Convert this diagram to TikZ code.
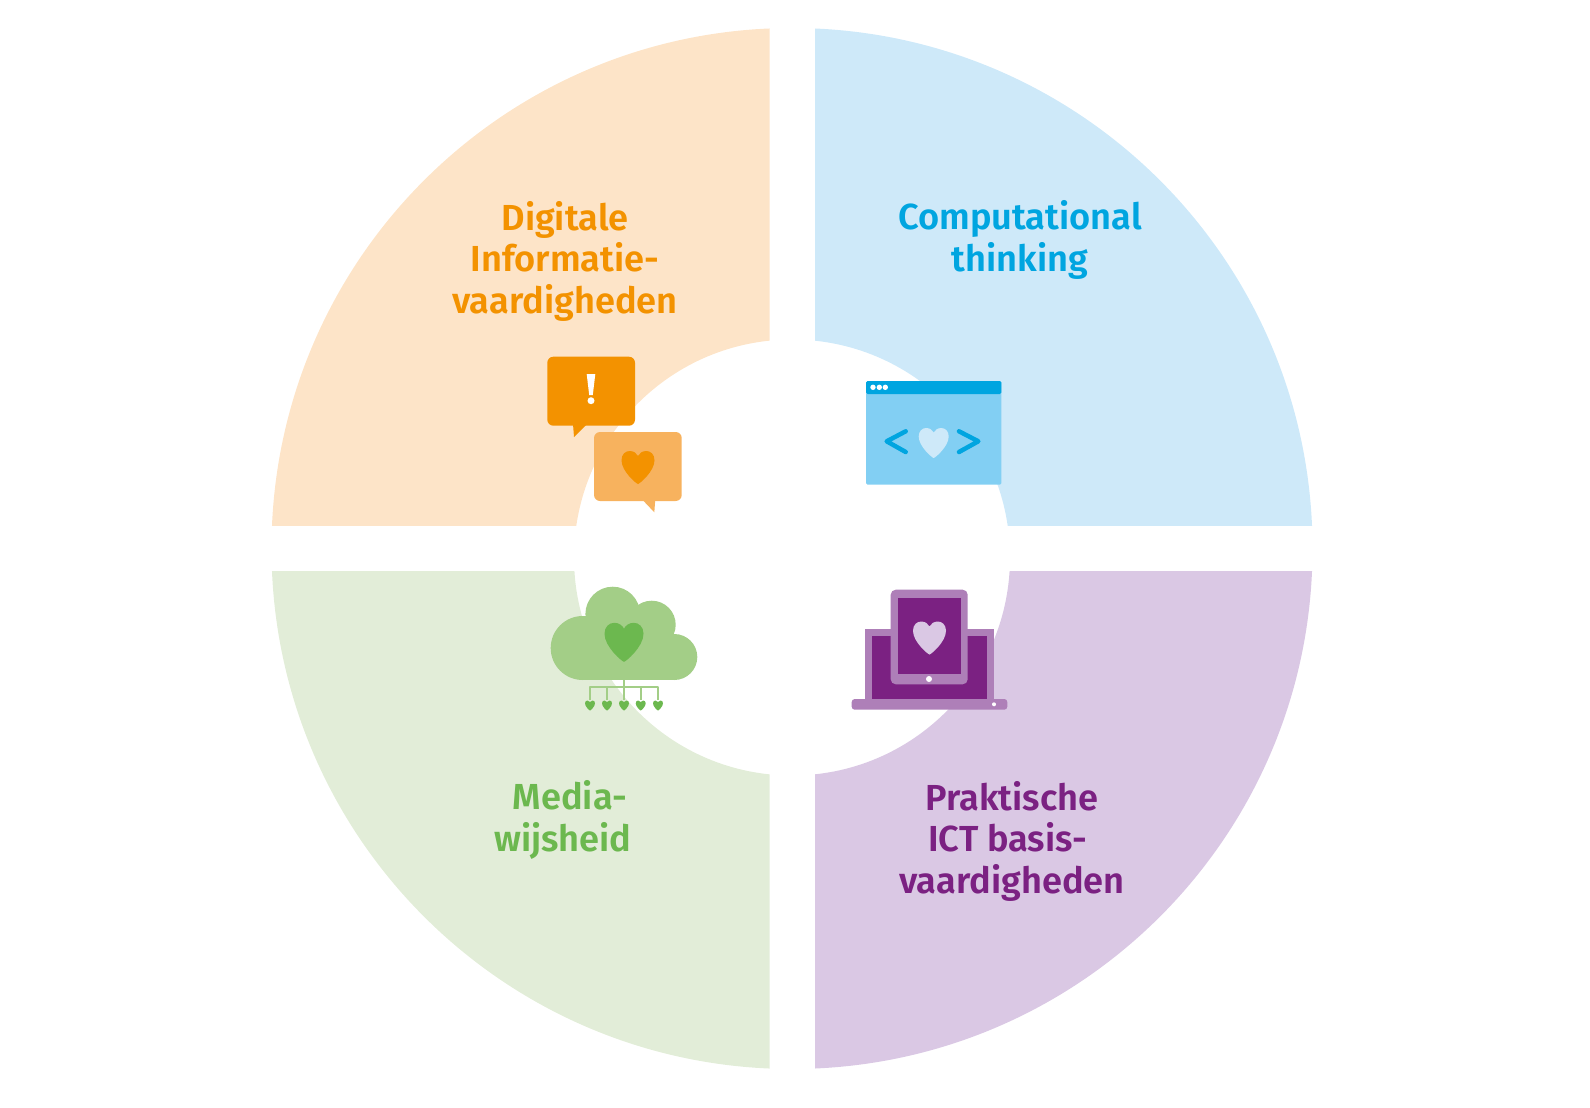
\documentclass[tikz,border=0pt]{standalone}
\usepackage{fontspec}
\setmainfont{Fira Sans}[UprightFont=* SemiBold]
\definecolor{orangeq}{HTML}{FDE4C8}
\definecolor{blueq}{HTML}{CEE9F9}
\definecolor{greenq}{HTML}{E2EDD8}
\definecolor{purpleq}{HTML}{DAC8E4}
\definecolor{orangedark}{HTML}{F39200}
\definecolor{orangemid}{HTML}{F7B25E}
\definecolor{bluedark}{HTML}{00A5E0}
\definecolor{bluemid}{HTML}{82CFF3}
\definecolor{greendark}{HTML}{6CB84F}
\definecolor{greenmid}{HTML}{A3CE87}
\definecolor{purpledark}{HTML}{7B2182}
\definecolor{purplemid}{HTML}{AE7FB8}
\tikzset{
  quadlabel/.style={font=\fontsize{36.2}{41.5}\selectfont, align=center, inner sep=0pt},
  heartpic/.pic={
    \fill (0,50) .. controls (-4,50) and (-50,12) .. (-50,-22)
      .. controls (-50,-40) and (-38,-50) .. (-25,-50)
      .. controls (-13,-50) and (-4,-43) .. (0,-35)
      .. controls (4,-43) and (13,-50) .. (25,-50)
      .. controls (38,-50) and (50,-40) .. (50,-22)
      .. controls (50,12) and (4,50) .. (0,50) -- cycle;
  },
  treeline/.style={greenmid, line width=2pt, line cap=butt}
}
\begin{document}
\begin{tikzpicture}[line cap=round, line join=round, x=1pt, y=-1pt]
  \useasboundingbox (0,0) rectangle (1590,1108);
  \coordinate (outer) at (792,548.5);
  \coordinate (inner) at (792,557.5);
  % quadrants
  \foreach \xa/\ya/\xb/\yb/\col in {
      271/27/769.7/525.5/orangeq, 815/27/1313/525.5/blueq,
      271/571/769.7/1070/greenq, 815/571/1313/1070/purpleq}
  {
    \begin{scope}
      \clip (\xa,\ya) rectangle (\xb,\yb);
      \fill[\col, even odd rule] (outer) circle (520.5) (inner) circle (218);
    \end{scope}
  }
  % labels
  \node[quadlabel, text=orangedark] (digitale) at (565,261) {Digitale\\Informatie-\\vaardigheden};
  \node[quadlabel, text=bluedark] (computational) at (1020,240) {Computational\\thinking};
  \node[quadlabel, text=greendark] (media) at (563,820) {\hspace*{14pt}Media-\\wijsheid};
  \node[quadlabel, text=purpledark] (praktische) at (1012,841) {Praktische\\ICT basis-\hspace*{9pt}\null\\vaardigheden};
  % speech bubbles
  \fill[orangedark, rounded corners=6pt] (547.3,356.7) rectangle (635,425.7);
  \fill[orangedark] (573,424) -- (574,437) -- (587,424) -- cycle;
  \fill[white] (586.7,374) -- (595.3,374) -- (592.8,395) -- (589.2,395) -- cycle;
  \fill[white] (591,400.7) circle (3.5);
  \fill[orangemid, rounded corners=6pt] (594,432) rectangle (681.7,501);
  \fill[orangemid] (641.7,499) -- (654.3,512.3) -- (655.3,499) -- cycle;
  \pic[orangedark, scale=0.33] at (638,467.5) {heartpic};
  % browser window
  \fill[bluemid, rounded corners=1.5pt] (866,381) rectangle (1001.3,484.7);
  \fill[bluedark, rounded corners=1.5pt] (866,394) -- (866,381) -- (1001.3,381) -- (1001.3,394) -- cycle;
  \foreach \x in {873,879.3,885.3}
    \fill[white] (\x,387.3) circle (2.7);
  \draw[bluedark, line width=4.5pt] (905.7,431.3) -- (886.7,441.3) -- (905.7,452);
  \draw[bluedark, line width=4.5pt] (959,431.3) -- (978.3,441.3) -- (959,452);
  \pic[blueq, scale=0.3] at (933.7,443) {heartpic};
  % cloud
  \foreach \x/\y/\r in {582.7/648/32, 674.3/657/23, 612.7/614/27.3, 651.7/624.7/24}
    \fill[greenmid] (\x,\y) circle (\r);
  \fill[greenmid] (582.7,625) rectangle (674.3,680);
  \pic[greendark, scale=0.39] at (624,642.3) {heartpic};
  \draw[treeline] (624,680) -- (624,700);
  \draw[treeline] (590,700) -- (590,687.3) -- (658,687.3) -- (658,700);
  \draw[treeline] (607,687.3) -- (607,700);
  \draw[treeline] (640.7,687.3) -- (640.7,700);
  \foreach \x in {590,607,624,640.7,658}
    \pic[greendark, scale=0.1] at (\x,705.5) {heartpic};
  % laptop and tablet
  \fill[purplemid] (865,629) rectangle (994,700);
  \fill[purpledark] (871.7,636) rectangle (987,699);
  \fill[purplemid, rounded corners=3pt] (851.7,699) -- (851.7,709.7) -- (1007.3,709.7) -- (1007.3,699) -- cycle;
  \fill[white] (994,704.3) circle (2);
  \fill[purplemid, rounded corners=5pt] (890.7,589.7) rectangle (967.7,684.3);
  \fill[purpledark] (898,597.7) rectangle (961,674);
  \fill[white] (929,679) circle (3);
  \pic[purpleq, scale=0.33] at (929.5,638) {heartpic};
\end{tikzpicture}
\end{document}
